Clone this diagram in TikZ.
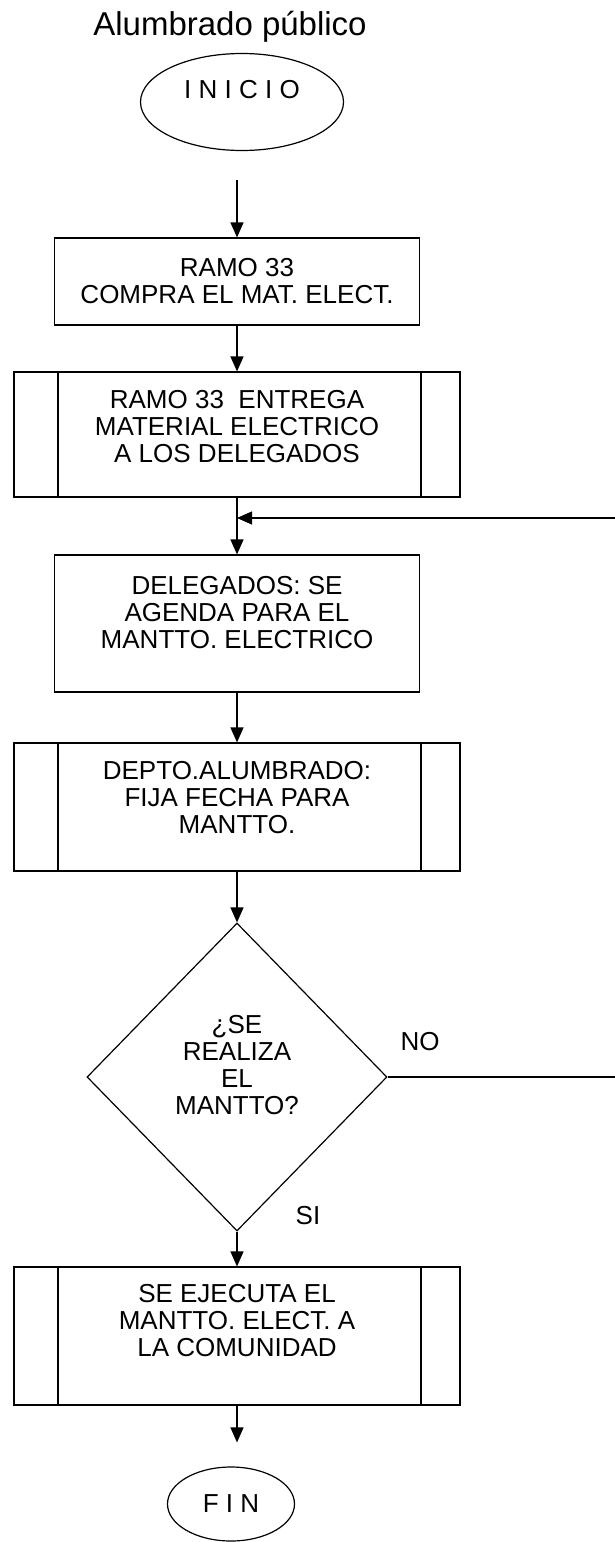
\documentclass[tikz,border=0pt]{standalone}
\usepackage{fontspec}
\setmainfont{Liberation Sans}
\usetikzlibrary{shapes.geometric,arrows.meta}

\begin{document}
\begin{tikzpicture}[x=1pt,y=-1pt,line width=1.2pt]
	\tikzstyle{every node}=[font=\fontsize{26}{27}\selectfont,align=center]
	\tikzstyle{arr}=[-{Triangle[length=15pt,width=13pt]}]
	\tikzstyle{term}=[draw,ellipse,inner sep=0pt]
	\tikzstyle{box}=[draw,rectangle,minimum width=365pt,inner sep=0pt]
	\tikzstyle{subbox}=[box,minimum width=446pt,path picture={
			\draw ([xshift=44pt]path picture bounding box.north west) -- ([xshift=44pt]path picture bounding box.south west);
			\draw ([xshift=-39pt]path picture bounding box.north east) -- ([xshift=-39pt]path picture bounding box.south east);}]
	\tikzstyle{dec}=[draw,diamond,aspect=1,inner sep=0pt,minimum width=300pt,minimum height=308pt]
	\useasboundingbox (0,0) rectangle (614,1542);
	\node[anchor=base,font=\fontsize{33}{38}\selectfont] (title) at (230,35) {Alumbrado público};
	\node[term,minimum width=203pt,minimum height=97pt,text depth=26pt] (ini) at (242,102) {I N I C I O};
	\node[box,minimum height=87pt] (b1) at (237,281.5) {RAMO 33\\COMPRA EL MAT. ELECT.};
	\node[subbox,minimum height=125pt,text depth=16pt] (b2) at (237,434.5) {RAMO 33\ \ ENTREGA\\MATERIAL ELECTRICO\\A LOS DELEGADOS};
	\node[box,minimum height=137pt,text depth=22pt] (b3) at (237,623.5) {DELEGADOS: SE\\AGENDA PARA EL\\MANTTO. ELECTRICO};
	\node[subbox,minimum height=128pt,text depth=20pt] (b4) at (237,807) {DEPTO.ALUMBRADO:\\FIJA FECHA PARA\\MANTTO.};
	\node[dec,text depth=24pt] (dec) at (237,1077) {¿SE\\REALIZA\\EL\\MANTTO?};
	\node[subbox,minimum height=138pt,text depth=32pt] (b5) at (237,1336) {SE EJECUTA EL\\MANTTO. ELECT. A\\LA COMUNIDAD};
	\node[term,minimum width=127pt,minimum height=74pt] (fin) at (231,1504) {F I N};
	\node (no) at (420,1042) {NO};
	\node (si) at (308,1216) {SI};
	\coordinate (join) at (237,518);
	\draw[arr,shorten <=29pt] (b1.north |- ini.south) -- (b1.north);
	\draw[arr] (b1) -- (b2);
	\draw[arr] (b2) -- (b3);
	\draw[arr] (b3) -- (b4);
	\draw[arr] (b4) -- (dec);
	\draw[arr] (dec.east) -- (630,1077) |- (join);
	\draw[arr] (dec) -- (b5);
	\draw[arr,shorten >=24pt] (b5.south) -- (b5.south |- fin.north);
\end{tikzpicture}
\end{document}
